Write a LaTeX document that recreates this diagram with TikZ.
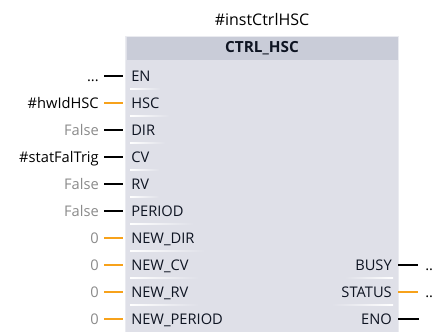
\documentclass[tikz,border=0pt]{standalone}
\usepackage{fontspec}
\setmainfont{Open Sans}
\usetikzlibrary{calc}
\definecolor{fbbody}{HTML}{DFE0E8}
\definecolor{fbhead}{HTML}{C9CCD8}
\definecolor{fbedge}{HTML}{EAEBF0}
\definecolor{wireorange}{HTML}{F7A21B}
\definecolor{paramgray}{HTML}{8A8A8A}
\definecolor{pintext}{HTML}{0E1422}
\tikzset{
    fblock/.style={
        draw=fbedge,
        line width=0.75pt,
        fill=fbbody,
        anchor=north west,
        minimum width=273*0.75pt,
        minimum height=300*0.75pt
    },
    fbheader/.style={
        fill=fbhead,
        anchor=north,
        minimum width=271*0.75pt,
        minimum height=20*0.75pt,
        font=\fontsize{11.5}{13}\selectfont\bfseries,
        text=pintext
    },
    fbtitle/.style={
        font=\fontsize{12}{14}\selectfont,
        text=black
    },
    pinin/.style={
        anchor=west,
        inner xsep=6*0.75pt,
        text height=7.8pt,
        text depth=0pt,
        text=pintext
    },
    pinout/.style={
        pinin,
        anchor=east
    },
    param/.style={
        anchor=east,
        inner xsep=5*0.75pt,
        text height=7.8pt,
        text depth=0pt,
        text=black
    },
    paramgrey/.style={
        param,
        text=paramgray
    },
    result/.style={
        param,
        anchor=west
    },
    wire/.style={
        line width=2.6*0.75pt,
        black,
        shorten >=2*0.75pt
    },
    wireo/.style={
        wire,
        wireorange
    },
    sepline/.style={
        left color=white,
        right color=fbbody
    },
    sepliner/.style={
        left color=fbbody,
        right color=white
    }
}

\begin{document}
\begin{tikzpicture}[x=0.75pt,y=-0.75pt,font=\fontsize{11}{13}\selectfont]
    \useasboundingbox (0,0) rectangle (433,332);

    \node (TITLE) [fbtitle] at (262,20) {\#instCtrlHSC};
    \node (FB) [fblock] at (125,36) {};
    \node (HD) [fbheader] at ($(FB.north)+(0,1)$) {CTRL\_HSC};

    %% inputs
    \node (EN) [pinin] at (125,76) {EN};
    \node (HSC) [pinin] at (125,103) {HSC};
    \node (DIR) [pinin] at (125,130) {DIR};
    \node (CV) [pinin] at (125,157) {CV};
    \node (RV) [pinin] at (125,184) {RV};
    \node (PERIOD) [pinin] at (125,211) {PERIOD};
    \node (NEWDIR) [pinin] at (125,238) {NEW\_DIR};
    \node (NEWCV) [pinin] at (125,265) {NEW\_CV};
    \node (NEWRV) [pinin] at (125,292) {NEW\_RV};
    \node (NEWPERIOD) [pinin] at (125,319) {NEW\_PERIOD};

    \shade[sepline] ($(EN.west)+(5,12)$) rectangle ($(EN.east)+(4,13.5)$);
    \shade[sepline] ($(HSC.west)+(5,12)$) rectangle ($(HSC.east)+(4,13.5)$);
    \shade[sepline] ($(DIR.west)+(5,12)$) rectangle ($(DIR.east)+(4,13.5)$);
    \shade[sepline] ($(CV.west)+(5,12)$) rectangle ($(CV.east)+(4,13.5)$);
    \shade[sepline] ($(RV.west)+(5,12)$) rectangle ($(RV.east)+(4,13.5)$);
    \shade[sepline] ($(PERIOD.west)+(5,12)$) rectangle ($(PERIOD.east)+(4,13.5)$);
    \shade[sepline] ($(NEWDIR.west)+(5,12)$) rectangle ($(NEWDIR.east)+(4,13.5)$);
    \shade[sepline] ($(NEWCV.west)+(5,12)$) rectangle ($(NEWCV.east)+(4,13.5)$);
    \shade[sepline] ($(NEWRV.west)+(5,12)$) rectangle ($(NEWRV.east)+(4,13.5)$);

    %% actual parameters
    \node (pEN) [param] at (104,76) {...};
    \node (pHSC) [param] at (104,103) {\#hwIdHSC};
    \node (pDIR) [paramgrey] at (104,130) {False};
    \node (pCV) [param] at (104,157) {\#statFalTrig};
    \node (pRV) [paramgrey] at (104,184) {False};
    \node (pPERIOD) [paramgrey] at (104,211) {False};
    \node (pNEWDIR) [paramgrey] at (104,238) {0};
    \node (pNEWCV) [paramgrey] at (104,265) {0};
    \node (pNEWRV) [paramgrey] at (104,292) {0};
    \node (pNEWPERIOD) [paramgrey] at (104,319) {0};

    \draw[wire] (pEN.east) -- (EN.west);
    \draw[wireo] (pHSC.east) -- (HSC.west);
    \draw[wire] (pDIR.east) -- (DIR.west);
    \draw[wire] (pCV.east) -- (CV.west);
    \draw[wire] (pRV.east) -- (RV.west);
    \draw[wire] (pPERIOD.east) -- (PERIOD.west);
    \draw[wireo] (pNEWDIR.east) -- (NEWDIR.west);
    \draw[wireo] (pNEWCV.east) -- (NEWCV.west);
    \draw[wireo] (pNEWRV.east) -- (NEWRV.west);
    \draw[wireo] (pNEWPERIOD.east) -- (NEWPERIOD.west);

    %% outputs
    \node (BUSY) [pinout] at (398,265) {BUSY};
    \node (STATUS) [pinout] at (398,292) {STATUS};
    \node (ENO) [pinout] at (398,319) {ENO};

    \shade[sepliner] ($(BUSY.west)+(-4,12)$) rectangle ($(BUSY.east)+(-5,13.5)$);
    \shade[sepliner] ($(STATUS.west)+(-4,12)$) rectangle ($(STATUS.east)+(-5,13.5)$);

    \node (oBUSY) [result] at (420,265) {..};
    \node (oSTATUS) [result] at (420,292) {..};
    \coordinate (oENO) at (421,319);

    \draw[wire] (BUSY.east) -- (oBUSY.west);
    \draw[wireo] (STATUS.east) -- (oSTATUS.west);
    \draw[wire] (ENO.east) -- (oENO);

\end{tikzpicture}
\end{document}
